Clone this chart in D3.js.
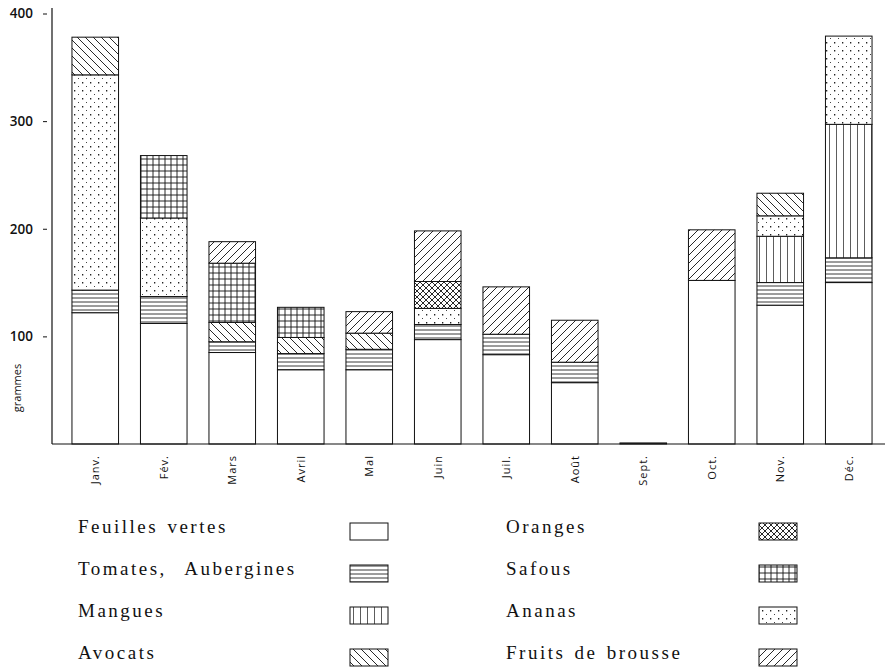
<!DOCTYPE html>
<html><head><meta charset="utf-8">
<script src="https://cdn.jsdelivr.net/npm/d3@7"></script>
<style>body{margin:0;background:#fff}svg{display:block}</style>
</head><body>
<script>
const months = ["Janv.","Fév.","Mars","Avril","Mal","Juin","Juil.","Août","Sept.","Oct.","Nov.","Déc."];
const feuillesVertes    = [122,112,85,69,69,97,83,57,1,152,129,150];
const tomatesAubergines = [21,25,10,15,19,14,19,19,0,0,21,23];
const mangues           = [0,0,0,0,0,0,0,0,0,0,43,124];
const ananas            = [200,73,0,0,0,15,0,0,0,0,19,82];
const avocats           = [35,0,18,15,15,0,0,0,0,0,21,0];
const oranges           = [0,0,0,0,0,25,0,0,0,0,0,0];
const safous            = [0,58,55,28,0,0,0,0,0,0,0,0];
const fruitsDeBrousse   = [0,0,20,0,20,47,44,39,0,47,0,0];
const yTicks = [100,200,300,400];
const seriesNames = ["Feuilles vertes","Tomates, Aubergines","Mangues","Ananas","Avocats","Oranges","Safous","Fruits de brousse"];
const seriesValues = [feuillesVertes,tomatesAubergines,mangues,ananas,avocats,oranges,safous,fruitsDeBrousse];
const legendLeft = ["Feuilles vertes","Tomates,  Aubergines","Mangues","Avocats"];
const legendLeftKeys = ["Feuilles vertes","Tomates, Aubergines","Mangues","Avocats"];
const legendRight = ["Oranges","Safous","Ananas","Fruits de brousse"];

const W=885,H=667;
const svg=d3.select("body").append("svg").attr("width",W).attr("height",H);
const defs=svg.append("defs");
const patId={};
function mk(id,w,h,draw){
  const p=defs.append("pattern").attr("id",id).attr("patternUnits","userSpaceOnUse").attr("width",w).attr("height",h);
  p.append("rect").attr("width",w).attr("height",h).attr("fill","#fff");
  draw(p);
  return "url(#"+id+")";
}
const sw=0.9;
patId["Feuilles vertes"]="#fff";
patId["Tomates, Aubergines"]=mk("pT",10,4,p=>p.append("line").attr("x1",0).attr("x2",10).attr("y1",2).attr("y2",2).attr("stroke","#222").attr("stroke-width",sw));
patId["Mangues"]=mk("pM",7,10,p=>p.append("line").attr("x1",3.5).attr("x2",3.5).attr("y1",0).attr("y2",10).attr("stroke","#333").attr("stroke-width",0.8));
patId["Ananas"]=mk("pA",8,8,p=>{p.append("rect").attr("x",2).attr("y",2).attr("width",1.3).attr("height",1.5).attr("fill","#222");p.append("rect").attr("x",6).attr("y",6).attr("width",1).attr("height",1).attr("fill","#444");});
patId["Avocats"]=mk("pAv",8,8,p=>{p.append("path").attr("d","M0,0L8,8M-4,4L4,12M4,-4L12,4").attr("stroke","#111").attr("stroke-width",sw);});
patId["Oranges"]=mk("pO",6,6,p=>{p.append("path").attr("d","M0,0L6,6M-3,3L3,9M3,-3L9,3M0,6L6,0M-3,3L3,-3M3,9L9,3").attr("stroke","#111").attr("stroke-width",sw);});
patId["Safous"]=mk("pS",6,6,p=>{p.append("path").attr("d","M0,3H6M3,0V6").attr("stroke","#111").attr("stroke-width",sw);});
patId["Fruits de brousse"]=mk("pF",8,8,p=>{p.append("path").attr("d","M0,8L8,0M-4,4L4,-4M4,12L12,4").attr("stroke","#111").attr("stroke-width",sw);});

const table=months.map((m,i)=>{const o={month:m};seriesNames.forEach((s,k)=>o[s]=seriesValues[k][i]);return o;});
const stack=d3.stack().keys(seriesNames)(table);

const x=d3.scaleBand().domain(months).range([61,883]).paddingInner(0.32).paddingOuter(0.16);
const y=d3.scaleLinear().domain([0,400]).range([444,13.5]);

// bars
stack.forEach(layer=>{
  svg.append("g").selectAll("rect").data(layer.filter(d=>d[1]-d[0]>0)).join("rect")
    .attr("x",d=>x(d.data.month)).attr("width",x.bandwidth())
    .attr("y",d=>y(d[1])).attr("height",d=>y(d[0])-y(d[1]))
    .attr("fill",patId[layer.key]).attr("stroke","#111").attr("stroke-width",1);
});

// y axis
svg.append("line").attr("x1",52).attr("x2",52).attr("y1",8).attr("y2",444).attr("stroke","#111").attr("stroke-width",1.2);
const ya=svg.append("g").attr("transform","translate(47,0)")
  .call(d3.axisLeft(y).tickValues(yTicks).tickSize(4).tickPadding(10).tickFormat(d3.format("d")));
ya.select(".domain").remove();
ya.selectAll("line").attr("stroke","#111");
ya.selectAll("text").attr("font-family","'Open Sans',sans-serif").attr("font-weight",600).attr("font-size",13.5).attr("fill","#111");
svg.append("text").attr("transform","translate(21,388) rotate(-90)").attr("text-anchor","middle")
  .attr("font-family","'Open Sans',sans-serif").attr("font-size",11).attr("fill","#111").text("grammes");

// x baseline + labels
svg.append("line").attr("x1",52).attr("x2",885).attr("y1",444).attr("y2",444).attr("stroke","#111").attr("stroke-width",1.2);
const xa=svg.append("g").attr("transform","translate(0,444)").call(d3.axisBottom(x).tickSize(0).tickPadding(0));
xa.select(".domain").remove();
xa.selectAll("text").attr("transform","translate(0,11) rotate(-90)").attr("text-anchor","end").attr("dy","0.35em").attr("x",0).attr("y",0)
  .attr("font-family","'Open Sans',sans-serif").attr("font-size",11).attr("letter-spacing",1).attr("fill","#111");

// legend
const rowsY=[533,575,617,659];
function legendCol(labels,keys,tx,sx){
  labels.forEach((t,i)=>{
    svg.append("text").attr("x",tx).attr("y",rowsY[i]).attr("font-family","'Liberation Serif',serif").attr("font-size",19).attr("letter-spacing",2.5).attr("word-spacing",2).style("white-space","pre").attr("fill","#111").text(t);
    svg.append("rect").attr("x",sx).attr("y",rowsY[i]-10).attr("width",38).attr("height",17).attr("fill",patId[keys[i]]).attr("stroke","#111").attr("stroke-width",1);
  });
}
legendCol(legendLeft,legendLeftKeys,78,350);
legendCol(legendRight,legendRight,506,759);
</script>
</body></html>
